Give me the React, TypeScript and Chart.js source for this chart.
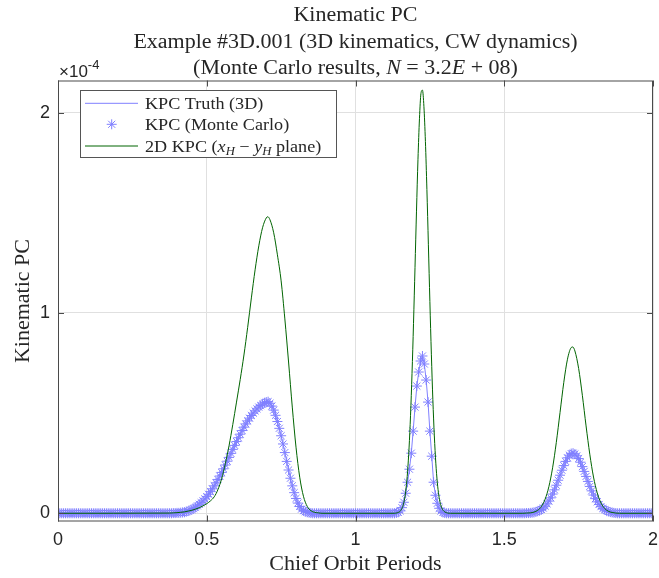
import React, { useEffect, useRef } from "react";
import { Chart, registerables } from "chart.js";

Chart.register(...registerables);

// ---------- DATA (values in units of 1e-4) ----------
// sampling grid of chief orbit periods for the 3D / Monte Carlo series
const X_STEP = 0.00625;

// KPC truth (3D), one value per grid point x = i * X_STEP, i = 0..320
const kpcTruth3D: number[] = [
  0, 0, 0, 0, 0, 0, 0, 0, 0, 0,
  0, 0, 0, 0, 0, 0, 0, 0, 0, 0,
  0, 0, 0, 0, 0, 0, 0, 0, 0, 0,
  0, 0, 0, 0, 0, 0, 0, 0, 0, 0,
  0, 0, 0, 0, 0, 0, 0, 0, 0, 0,
  0, 0, 0, 0, 0, 0, 0, 0, 0, 0,
  0, 0, 0.001, 0.001, 0.002, 0.002, 0.003, 0.004, 0.005, 0.008,
  0.011, 0.015, 0.019, 0.024, 0.030, 0.037, 0.045, 0.053, 0.062, 0.072,
  0.083, 0.095, 0.108, 0.122, 0.137, 0.152, 0.169, 0.186, 0.204, 0.222,
  0.241, 0.260, 0.279, 0.299, 0.319, 0.339, 0.358, 0.377, 0.395, 0.413,
  0.430, 0.446, 0.461, 0.475, 0.488, 0.500, 0.511, 0.521, 0.530, 0.538,
  0.545, 0.551, 0.555, 0.557, 0.549, 0.535, 0.515, 0.489, 0.458, 0.424,
  0.387, 0.346, 0.303, 0.259, 0.216, 0.175, 0.137, 0.103, 0.074, 0.051,
  0.034, 0.021, 0.013, 0.008, 0.005, 0.003, 0.001, 0, 0, 0,
  0, 0, 0, 0, 0, 0, 0, 0, 0, 0,
  0, 0, 0, 0, 0, 0, 0, 0, 0, 0,
  0, 0, 0, 0, 0, 0, 0, 0, 0, 0,
  0, 0, 0, 0, 0, 0, 0, 0, 0, 0,
  0, 0, 0.002, 0.005, 0.012, 0.028, 0.055, 0.100, 0.155, 0.220,
  0.300, 0.410, 0.530, 0.635, 0.705, 0.760, 0.785, 0.745, 0.665, 0.555,
  0.410, 0.285, 0.155, 0.090, 0.050, 0.025, 0.011, 0.004, 0.001, 0,
  0, 0, 0, 0, 0, 0, 0, 0, 0, 0,
  0, 0, 0, 0, 0, 0, 0, 0, 0, 0,
  0, 0, 0, 0, 0, 0, 0, 0, 0, 0,
  0, 0, 0, 0, 0, 0, 0, 0, 0, 0,
  0, 0, 0.001, 0.001, 0.002, 0.003, 0.004, 0.007, 0.010, 0.014,
  0.019, 0.026, 0.035, 0.047, 0.061, 0.077, 0.096, 0.117, 0.140, 0.165,
  0.190, 0.215, 0.238, 0.259, 0.277, 0.290, 0.298, 0.300, 0.296, 0.287,
  0.273, 0.255, 0.233, 0.209, 0.184, 0.159, 0.134, 0.112, 0.091, 0.073,
  0.057, 0.044, 0.033, 0.024, 0.018, 0.013, 0.009, 0.006, 0.004, 0.002,
  0.001, 0, 0, 0, 0, 0, 0, 0, 0, 0,
  0, 0, 0, 0, 0, 0, 0, 0, 0, 0,
  0,
];

// Monte Carlo estimate coincides with the truth on the same grid
const kpcMonteCarlo: number[] = kpcTruth3D;

// 2D KPC (x_H - y_H plane), three segments
const x2DPeak1: number[] = [
  0, 0.375, 0.3875, 0.4, 0.4125, 0.425, 0.4375, 0.45, 0.4625, 0.475, 0.4875, 0.5,
  0.5125, 0.525, 0.5375, 0.55, 0.5625, 0.575, 0.5875, 0.6,
  0.6125, 0.625, 0.6375, 0.65, 0.6625, 0.675, 0.6875, 0.7, 0.705,
  0.7125, 0.725, 0.7375, 0.75, 0.7625, 0.775, 0.7875, 0.8,
  0.8125, 0.825, 0.8375, 0.85, 0.8625, 0.875, 0.8875,
];
const kpc2DPeak1: number[] = [
  0, 0.001, 0.002, 0.003, 0.005, 0.007, 0.011, 0.015, 0.021, 0.028, 0.037, 0.048,
  0.062, 0.082, 0.118, 0.172, 0.248, 0.338, 0.443, 0.555,
  0.668, 0.790, 0.928, 1.075, 1.215, 1.335, 1.425, 1.474, 1.480,
  1.465, 1.400, 1.290, 1.160, 0.970, 0.755, 0.530, 0.330,
  0.180, 0.085, 0.035, 0.013, 0.005, 0.002, 0,
];
const x2DPeak2: number[] = [
  1.13, 1.14, 1.145, 1.15, 1.155, 1.16, 1.165, 1.17, 1.175, 1.18,
  1.185, 1.19, 1.195, 1.2, 1.205, 1.21, 1.215, 1.22, 1.225, 1.23,
  1.235, 1.24, 1.245, 1.25, 1.255, 1.26, 1.265, 1.27, 1.275, 1.28,
  1.285, 1.29, 1.295, 1.3, 1.31, 1.32,
];
const kpc2DPeak2: number[] = [
  0, 0.002, 0.005, 0.010, 0.021, 0.039, 0.072, 0.125, 0.207, 0.326,
  0.489, 0.698, 0.948, 1.226, 1.508, 1.767, 1.969, 2.095, 2.112, 2.029,
  1.856, 1.616, 1.340, 1.057, 0.794, 0.567, 0.386, 0.250, 0.154, 0.090,
  0.050, 0.027, 0.014, 0.007, 0.001, 0,
];
const x2DPeak3: number[] = [
  1.5625, 1.575, 1.5875, 1.6, 1.6125, 1.625, 1.6375, 1.65, 1.6625, 1.675,
  1.6875, 1.7, 1.7125, 1.725, 1.73, 1.7375, 1.75, 1.7625, 1.775, 1.7875,
  1.8, 1.8125, 1.825, 1.8375, 1.85, 1.8625, 1.875, 1.8875, 2,
];
const kpc2DPeak3: number[] = [
  0, 0.001, 0.002, 0.006, 0.015, 0.034, 0.071, 0.133, 0.227, 0.354,
  0.503, 0.652, 0.769, 0.827, 0.830, 0.810, 0.723, 0.589, 0.436, 0.295,
  0.181, 0.102, 0.052, 0.024, 0.010, 0.004, 0.001, 0, 0,
];

const xTicks: number[] = [0, 0.5, 1, 1.5, 2];
const yTicks: number[] = [0, 1, 2];
const X_MIN = 0;
const X_MAX = 2;
const Y_MIN = -0.041;
const Y_MAX = 2.16;

// ---------- TEXT ----------
type Run = { t: string; it?: boolean; sub?: boolean };
const titleLines: Run[][] = [
  [{ t: "Kinematic PC" }],
  [{ t: "Example #3D.001 (3D kinematics, CW dynamics)" }],
  [
    { t: "(Monte Carlo results, " },
    { t: "N", it: true },
    { t: " = 3.2" },
    { t: "E", it: true },
    { t: " + 08)" },
  ],
];
const legendLabels: Run[][] = [
  [{ t: "KPC Truth (3D)" }],
  [{ t: "KPC (Monte Carlo)" }],
  [
    { t: "2D KPC (" },
    { t: "x", it: true },
    { t: "H", it: true, sub: true },
    { t: " \u2212 " },
    { t: "y", it: true },
    { t: "H", it: true, sub: true },
    { t: " plane)" },
  ],
];
const xAxisTitle: Run[] = [{ t: "Chief Orbit Periods" }];
const yAxisTitle: Run[] = [{ t: "Kinematic PC" }];

// ---------- STYLE ----------
const SERIF = '"Liberation Serif", "Times New Roman", serif';
const SANS = '"Liberation Sans", Arial, Helvetica, sans-serif';
const TEXT = "#262626";
const AXIS = "#4a4a4a";
const GRID = "#e0e0e0";
const BLUE = "#8080ff";
const GREEN = "#006400";

function runFont(r: Run, size: number) {
  const s = r.sub ? size * 0.7 : size;
  return `${r.it ? "italic " : ""}${s}px ${SERIF}`;
}

function drawRuns(
  ctx: CanvasRenderingContext2D,
  runs: Run[],
  x: number,
  y: number,
  size: number,
  align: "left" | "center",
  sx: number
) {
  const widths = runs.map((r) => {
    ctx.font = runFont(r, size);
    return ctx.measureText(r.t).width;
  });
  const total = widths.reduce((a, b) => a + b, 0) * sx;
  const start = align === "center" ? x - total / 2 : x;
  ctx.save();
  ctx.translate(start, y);
  ctx.scale(sx, 1);
  ctx.fillStyle = TEXT;
  ctx.textAlign = "left";
  ctx.textBaseline = "alphabetic";
  let cx = 0;
  runs.forEach((r, i) => {
    ctx.font = runFont(r, size);
    ctx.fillText(r.t, cx, r.sub ? size * 0.22 : 0);
    cx += widths[i];
  });
  ctx.restore();
}

function drawStar(ctx: CanvasRenderingContext2D, x: number, y: number, r: number) {
  ctx.beginPath();
  for (let k = 0; k < 4; k++) {
    const a = (k * Math.PI) / 4;
    ctx.moveTo(x - r * Math.cos(a), y - r * Math.sin(a));
    ctx.lineTo(x + r * Math.cos(a), y + r * Math.sin(a));
  }
  ctx.stroke();
}

const decorPlugin = {
  id: "decor",
  afterDraw(chart: any) {
    const { ctx, chartArea: a, scales } = chart;
    const xs = scales.x;
    const ys = scales.y;
    ctx.save();

    // axes box
    ctx.strokeStyle = AXIS;
    ctx.lineWidth = 1;
    ctx.strokeRect(a.left + 0.5, a.top + 0.5, a.right - a.left - 1, a.bottom - a.top - 1);

    // inward tick marks
    const TL = 6;
    ctx.beginPath();
    xTicks.forEach((v) => {
      const px = Math.round(xs.getPixelForValue(v)) + 0.5;
      ctx.moveTo(px, a.bottom);
      ctx.lineTo(px, a.bottom - TL);
      ctx.moveTo(px, a.top);
      ctx.lineTo(px, a.top + TL);
    });
    yTicks.forEach((v) => {
      const py = Math.round(ys.getPixelForValue(v)) + 0.5;
      ctx.moveTo(a.left, py);
      ctx.lineTo(a.left + TL, py);
      ctx.moveTo(a.right, py);
      ctx.lineTo(a.right - TL, py);
    });
    ctx.stroke();

    // titles
    const cx = (a.left + a.right) / 2;
    const baselines = [20.5, 47.5, 74];
    titleLines.forEach((line, i) => drawRuns(ctx, line, cx, baselines[i], 20, "center", 1.1));

    // exponent label
    ctx.fillStyle = TEXT;
    ctx.textAlign = "left";
    ctx.textBaseline = "alphabetic";
    ctx.font = `17px ${SANS}`;
    ctx.fillText("\u00d710", a.left + 1, 77);
    const w10 = ctx.measureText("\u00d710").width;
    ctx.font = `13px ${SANS}`;
    ctx.fillText("-4", a.left + 1 + w10, 69);

    // axis titles
    drawRuns(ctx, xAxisTitle, cx, 570, 20, "center", 1.1);
    ctx.save();
    ctx.translate(28.5, (a.top + a.bottom) / 2);
    ctx.rotate(-Math.PI / 2);
    drawRuns(ctx, yAxisTitle, 0, 0, 20, "center", 1.1);
    ctx.restore();

    // legend
    const lx = 80.5;
    const ly = 90.5;
    const lw = 256;
    const lh = 67;
    ctx.fillStyle = "#ffffff";
    ctx.fillRect(lx, ly, lw, lh);
    ctx.strokeStyle = "#555555";
    ctx.lineWidth = 1;
    ctx.strokeRect(lx, ly, lw, lh);
    const rowY = [103.3, 124.3, 146];
    // entry 1: truth line
    ctx.strokeStyle = BLUE;
    ctx.beginPath();
    ctx.moveTo(85, rowY[0]);
    ctx.lineTo(138, rowY[0]);
    ctx.stroke();
    // entry 2: star marker
    drawStar(ctx, 111.7, rowY[1], 5);
    // entry 3: green line
    ctx.strokeStyle = GREEN;
    ctx.beginPath();
    ctx.moveTo(85, rowY[2]);
    ctx.lineTo(138, rowY[2]);
    ctx.stroke();
    legendLabels.forEach((runs, i) => drawRuns(ctx, runs, 145, rowY[i] + 5.5, 16.5, "left", 1.1));

    ctx.restore();
  },
};

export default function App() {
  const canvasRef = useRef<HTMLCanvasElement | null>(null);

  useEffect(() => {
    const canvas = canvasRef.current;
    if (!canvas) return;

    const truthPts = kpcTruth3D.map((v, i) => ({ x: i * X_STEP, y: v }));
    const mcPts = kpcMonteCarlo.map((v, i) => ({ x: i * X_STEP, y: v }));
    const xs2D = [...x2DPeak1, ...x2DPeak2, ...x2DPeak3];
    const ys2D = [...kpc2DPeak1, ...kpc2DPeak2, ...kpc2DPeak3];
    const pts2D = xs2D.map((x, i) => ({ x, y: ys2D[i] }));

    const chart = new Chart(canvas, {
      type: "scatter",
      data: {
        datasets: [
          {
            label: "2D KPC (x_H - y_H plane)",
            data: pts2D,
            showLine: true,
            borderColor: GREEN,
            backgroundColor: GREEN,
            borderWidth: 1,
            pointRadius: 0,
            cubicInterpolationMode: "monotone",
            order: 1,
          } as any,
          {
            label: "KPC (Monte Carlo)",
            data: mcPts,
            showLine: false,
            pointStyle: "star",
            pointRadius: 5,
            borderColor: BLUE,
            backgroundColor: BLUE,
            borderWidth: 1,
            order: 2,
          } as any,
          {
            label: "KPC Truth (3D)",
            data: truthPts,
            showLine: true,
            borderColor: BLUE,
            backgroundColor: BLUE,
            borderWidth: 1,
            pointRadius: 0,
            order: 3,
          } as any,
        ],
      },
      options: {
        animation: false,
        responsive: false,
        devicePixelRatio: 1,
        events: [],
        layout: { padding: { top: 80.5, right: 2, bottom: 0, left: 0 } },
        plugins: {
          legend: { display: false },
          title: { display: false },
          tooltip: { enabled: false },
        },
        scales: {
          x: {
            type: "linear",
            min: X_MIN,
            max: X_MAX,
            afterBuildTicks: (s: any) => {
              s.ticks = xTicks.map((v) => ({ value: v }));
            },
            afterFit: (s: any) => {
              s.height = 56.5;
              s.paddingLeft = 0;
              s.paddingRight = 0;
            },
            ticks: {
              autoSkip: false,
              maxRotation: 0,
              padding: 8,
              color: TEXT,
              font: { family: SANS, size: 18 },
              callback: (v: any) => String(v),
            },
            grid: { color: GRID, lineWidth: 1, drawTicks: false },
            border: { display: false },
          },
          y: {
            type: "linear",
            min: Y_MIN,
            max: Y_MAX,
            afterBuildTicks: (s: any) => {
              s.ticks = yTicks.map((v) => ({ value: v }));
            },
            afterFit: (s: any) => {
              s.width = 58;
              s.paddingTop = 0;
              s.paddingBottom = 0;
            },
            ticks: {
              padding: 8,
              color: TEXT,
              font: { family: SANS, size: 18 },
              callback: (v: any) => String(v),
            },
            grid: { color: GRID, lineWidth: 1, drawTicks: false },
            border: { display: false },
          },
        },
      } as any,
      plugins: [decorPlugin],
    });

    return () => chart.destroy();
  }, []);

  return (
    <div style={{ position: "fixed", left: 0, top: 0, width: 659, height: 578, background: "#ffffff" }}>
      <canvas ref={canvasRef} width={659} height={578} style={{ display: "block", width: 659, height: 578 }} />
    </div>
  );
}
